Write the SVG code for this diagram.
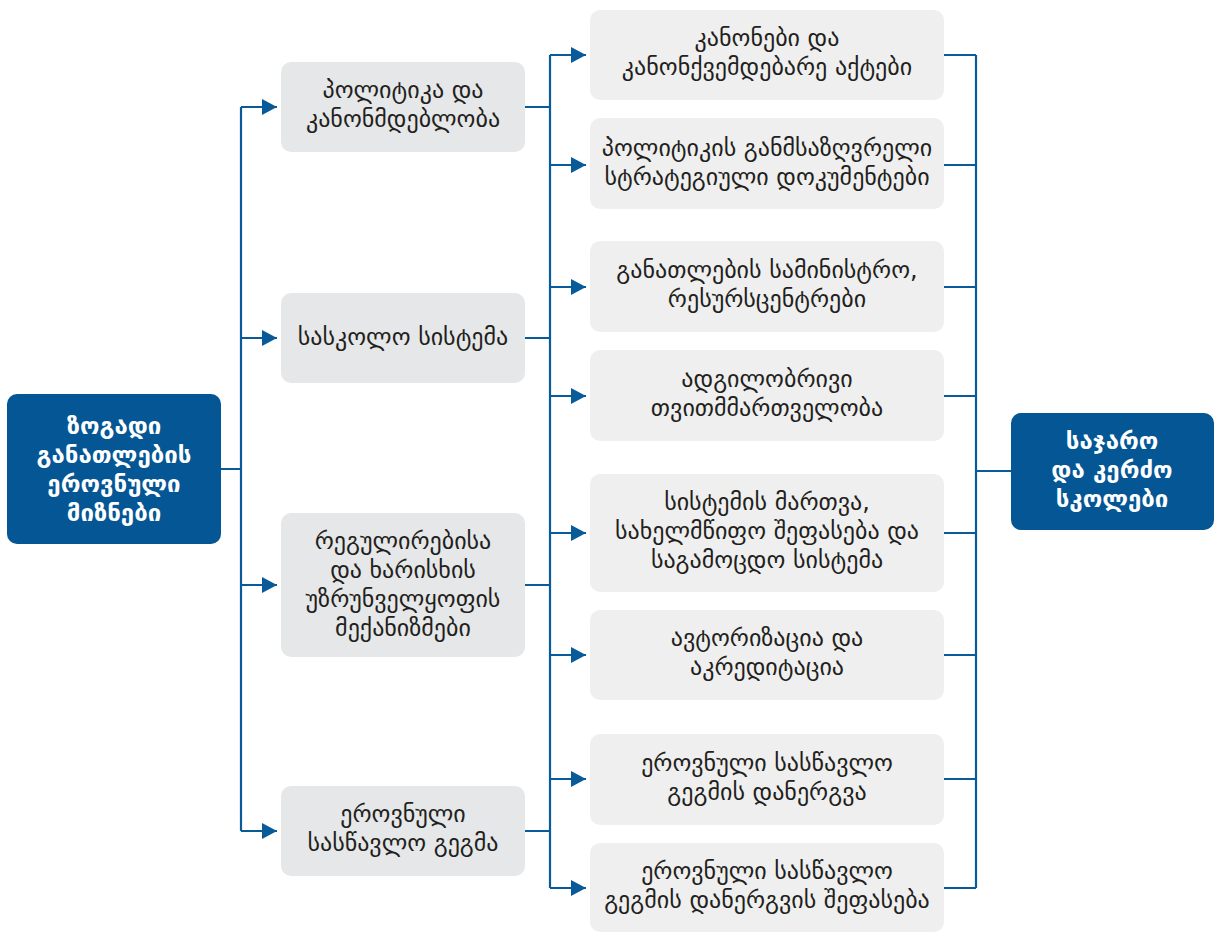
<svg xmlns="http://www.w3.org/2000/svg" width="1219" height="932" viewBox="0 0 1219 932">
<defs>
<marker id="arr" markerUnits="userSpaceOnUse" markerWidth="15" markerHeight="16" refX="15" refY="8" orient="auto" viewBox="0 0 15 16">
<path d="M0,0 L15,8 L0,16 z" fill="#085a98"/>
</marker>
</defs>
<style>
.main{fill:#045694}
.l2{fill:#e6e7e8}
.l3{fill:#efefef}
.tw{font-family:"DejaVu Sans",sans-serif;font-size:24px;font-weight:bold;fill:#ffffff;text-anchor:middle}
.td{font-family:"DejaVu Sans",sans-serif;font-size:24px;fill:#231f20;text-anchor:middle}
.ln{fill:none;stroke:#085a98;stroke-width:2.2}
.ar{fill:none;stroke:#085a98;stroke-width:2.2;marker-end:url(#arr)}
</style>
<rect width="1219" height="932" fill="#ffffff"/>
<g id="connectors">
<path class="ln" d="M221 469 H241 M241 107 V831"/>
<path class="ar" d="M241 107 H277"/>
<path class="ar" d="M241 338 H277"/>
<path class="ar" d="M241 585 H277"/>
<path class="ar" d="M241 831 H277"/>
<path class="ln" d="M525 107 H550 M525 338 H550 M525 585 H550 M525 831 H550 M550 55 V888"/>
<path class="ar" d="M550 55 H586"/>
<path class="ar" d="M550 165 H586"/>
<path class="ar" d="M550 287 H586"/>
<path class="ar" d="M550 396 H586"/>
<path class="ar" d="M550 533 H586"/>
<path class="ar" d="M550 655 H586"/>
<path class="ar" d="M550 779 H586"/>
<path class="ar" d="M550 888 H586"/>
<path class="ln" d="M944 55 H976 M944 165 H976 M944 287 H976 M944 396 H976 M944 533 H976 M944 655 H976 M944 779 H976 M944 888 H976 M976 55 V888 M976 471 H1011"/>
</g>
<g id="goal">
<rect class="main" x="7" y="394" width="214" height="150" rx="10"/>
<text class="tw"><tspan x="114" y="434">ზოგადი</tspan><tspan x="114" y="463">განათლების</tspan><tspan x="114" y="492">ეროვნული</tspan><tspan x="114" y="521">მიზნები</tspan></text>
</g>
<g id="policy">
<rect class="l2" x="281" y="62" width="244" height="90" rx="10"/>
<text class="td"><tspan x="403" y="98">პოლიტიკა და</tspan><tspan x="403" y="127">კანონმდებლობა</tspan></text>
</g>
<g id="school-system">
<rect class="l2" x="281" y="293" width="244" height="90" rx="10"/>
<text class="td"><tspan x="403" y="345">სასკოლო სისტემა</tspan></text>
</g>
<g id="regulation">
<rect class="l2" x="281" y="513" width="244" height="144" rx="10"/>
<text class="td"><tspan x="403" y="549">რეგულირებისა</tspan><tspan x="403" y="578">და ხარისხის</tspan><tspan x="403" y="607">უზრუნველყოფის</tspan><tspan x="403" y="636">მექანიზმები</tspan></text>
</g>
<g id="curriculum">
<rect class="l2" x="281" y="786" width="244" height="90" rx="10"/>
<text class="td"><tspan x="403" y="822">ეროვნული</tspan><tspan x="403" y="851">სასწავლო გეგმა</tspan></text>
</g>
<g id="laws">
<rect class="l3" x="590" y="10" width="354" height="90" rx="10"/>
<text class="td"><tspan x="767" y="46">კანონები და</tspan><tspan x="767" y="75">კანონქვემდებარე აქტები</tspan></text>
</g>
<g id="strategy">
<rect class="l3" x="590" y="118" width="354" height="91" rx="10"/>
<text class="td"><tspan x="767" y="156">პოლიტიკის განმსაზღვრელი</tspan><tspan x="767" y="185">სტრატეგიული დოკუმენტები</tspan></text>
</g>
<g id="ministry">
<rect class="l3" x="590" y="241" width="354" height="91" rx="10"/>
<text class="td"><tspan x="767" y="278">განათლების სამინისტრო,</tspan><tspan x="767" y="307">რესურსცენტრები</tspan></text>
</g>
<g id="local">
<rect class="l3" x="590" y="350" width="354" height="91" rx="10"/>
<text class="td"><tspan x="767" y="387">ადგილობრივი</tspan><tspan x="767" y="416">თვითმმართველობა</tspan></text>
</g>
<g id="management">
<rect class="l3" x="590" y="474" width="354" height="118" rx="10"/>
<text class="td"><tspan x="767" y="510">სისტემის მართვა,</tspan><tspan x="767" y="539">სახელმწიფო შეფასება და</tspan><tspan x="767" y="568">საგამოცდო სისტემა</tspan></text>
</g>
<g id="authorization">
<rect class="l3" x="590" y="610" width="354" height="90" rx="10"/>
<text class="td"><tspan x="767" y="646">ავტორიზაცია და</tspan><tspan x="767" y="675">აკრედიტაცია</tspan></text>
</g>
<g id="implementation">
<rect class="l3" x="590" y="734" width="354" height="91" rx="10"/>
<text class="td"><tspan x="767" y="771">ეროვნული სასწავლო</tspan><tspan x="767" y="800">გეგმის დანერგვა</tspan></text>
</g>
<g id="evaluation">
<rect class="l3" x="590" y="843" width="354" height="89" rx="10"/>
<text class="td"><tspan x="767" y="879">ეროვნული სასწავლო</tspan><tspan x="767" y="908">გეგმის დანერგვის შეფასება</tspan></text>
</g>
<g id="schools">
<rect class="main" x="1011" y="413" width="203" height="117" rx="10"/>
<text class="tw"><tspan x="1112" y="449">საჯარო</tspan><tspan x="1112" y="478">და კერძო</tspan><tspan x="1112" y="507">სკოლები</tspan></text>
</g>
</svg>
